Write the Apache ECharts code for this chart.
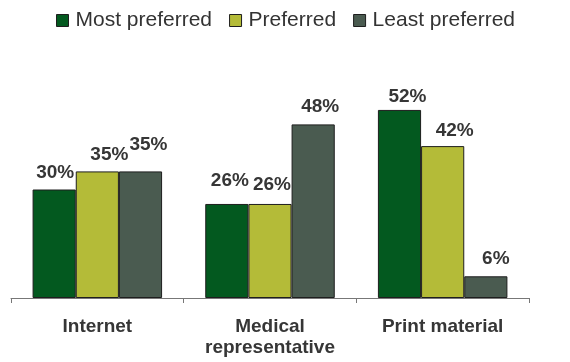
<!DOCTYPE html>
<html>
<head>
<meta charset="utf-8">
<script src="https://cdn.jsdelivr.net/npm/echarts@6/dist/echarts.min.js"></script>
<style>
  html, body { margin: 0; padding: 0; background: #fff; }
  #chart { width: 570px; height: 362px; }
</style>
</head>
<body>
<div id="chart"></div>
<script>
// chart data
const categories = ["Internet", "Medical\nrepresentative", "Print material"];
const seriesNames = ["Most preferred", "Preferred", "Least preferred"];
const mostPreferred = [30, 26, 52];
const preferred = [35, 26, 42];
const leastPreferred = [35, 48, 6];

const colors = ["#03591f", "#b4bb38", "#4a5b50"];
const values = [mostPreferred, preferred, leastPreferred];

// hand placed value labels in the original, nudged [dx, dy] per bar
const labelNudges = [
  [[1, -3], [3, -10], [8, 0]],
  [[12, -3], [2, -6], [12, -2]],
  [[8, -13], [7, -4], [10, -4]],
];

const font = "Liberation Sans, Arial, sans-serif";
const chart = echarts.init(document.getElementById("chart"));

const series = seriesNames.map((name, i) => ({
  name,
  type: "bar",
  data: values[i].map((v, j) => ({
    value: v,
    label: { offset: labelNudges[i][j] },
  })),
  barGap: 0,
  barCategoryGap: "25%",
  itemStyle: { color: colors[i], borderColor: "#1e1e1e", borderWidth: 1 },
  label: {
    show: true,
    position: "top",
    distance: 4,
    formatter: "{c}%",
    color: "#363636",
    fontSize: 19,
    fontWeight: "bold",
    fontFamily: font,
  },
}));

chart.setOption({
  animation: false,
  color: colors,
  legend: {
    top: 5,
    left: 51,
    itemWidth: 12,
    itemHeight: 12,
    itemGap: 17,
    icon: "rect",
    itemStyle: { borderColor: "#1e1e1e", borderWidth: 1 },
    textStyle: {
      color: "#333",
      fontSize: 21,
      fontFamily: font,
      padding: [0, 0, 0, 2],
    },
  },
  grid: { left: 11, right: 41, top: 81, bottom: 64 },
  xAxis: {
    type: "category",
    data: categories,
    axisLine: { lineStyle: { color: "#777", width: 1 } },
    axisTick: { show: true, length: 5, lineStyle: { color: "#777" } },
    axisLabel: {
      color: "#363636",
      fontSize: 19,
      fontWeight: "bold",
      lineHeight: 21,
      margin: 18,
      fontFamily: font,
    },
  },
  yAxis: {
    type: "value",
    min: 0,
    max: 60,
    show: false,
    splitLine: { show: false },
  },
  series,
});
</script>
</body>
</html>
